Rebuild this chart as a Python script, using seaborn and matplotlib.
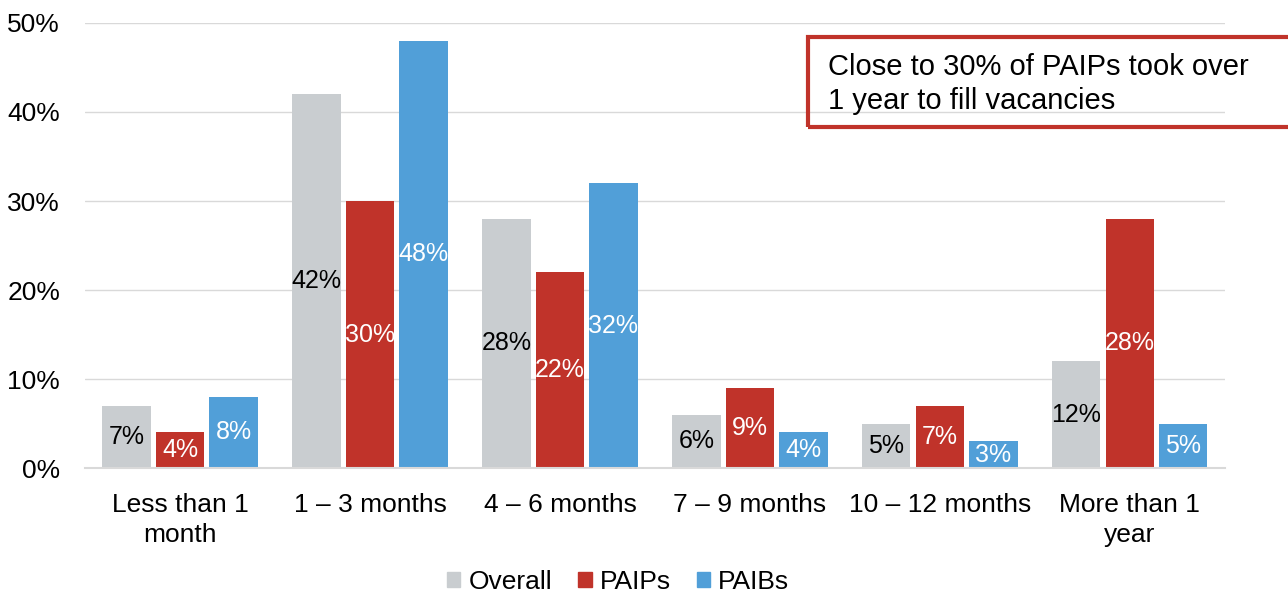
import pandas as pd
import numpy as np
import matplotlib.pyplot as plt
import seaborn as sns
from matplotlib.patches import Rectangle

# data
categories = ['Less than 1\nmonth', '1 – 3 months', '4 – 6 months',
              '7 – 9 months', '10 – 12 months', 'More than 1\nyear']
overall = [7, 42, 28, 6, 5, 12]
paips = [4, 30, 22, 9, 7, 28]
paibs = [8, 48, 32, 4, 3, 5]
groups = ['Overall', 'PAIPs', 'PAIBs']
colors = ['#C9CDD0', '#C0332A', '#519FD8']
label_colors = ['black', 'white', 'white']

df = pd.DataFrame({
    'category': categories * 3,
    'group': [g for g in groups for _ in categories],
    'value': [v / 100 for v in overall + paips + paibs],
})

sns.set_style('white')
plt.rcParams['font.family'] = ['Liberation Sans', 'DejaVu Sans']
plt.rcParams['text.color'] = 'black'
plt.rcParams['xtick.color'] = 'black'
plt.rcParams['ytick.color'] = 'black'

fig = plt.figure(figsize=(12.88, 5.97), dpi=100)
ax = fig.add_axes([0.066, 0.216, 0.885, 0.7455])

sns.barplot(data=df, x='category', y='value', hue='group', order=categories,
            hue_order=groups, palette=colors, width=0.845, gap=0.1,
            saturation=1, linewidth=0, ax=ax, legend=False)

for cont, c in zip(ax.containers, label_colors):
    ax.bar_label(cont, labels=[f'{h.get_height()*100:.0f}%' for h in cont],
                 label_type='center', color=c, fontsize=18)

ax.set_xlim(-0.5, 5.5)
ax.set_ylim(0, 0.5)
ax.set_yticks(np.arange(0, 0.51, 0.1))
ax.set_yticklabels([f'{int(t*100)}%' for t in np.arange(0, 0.51, 0.1)])
ax.yaxis.grid(True, color='#D9D9D9', linewidth=1)
ax.set_axisbelow(True)
for s in ['top', 'right', 'left']:
    ax.spines[s].set_visible(False)
ax.spines['bottom'].set_color('#D9D9D9')
ax.spines['bottom'].set_linewidth(1.5)
ax.tick_params(axis='y', length=0, pad=18, labelsize=19)
ax.tick_params(axis='x', length=0, pad=18, labelsize=19)
for lab in ax.get_xticklabels():
    lab.set_linespacing(1.3)
ax.set_xlabel('')
ax.set_ylabel('')

# legend with square markers
handles = [Rectangle((0, 0), 1, 1, color=c) for c in colors]
fig.legend(handles, groups, loc='lower center', bbox_to_anchor=(0.48, -0.035),
           ncol=3, frameon=False, fontsize=19, handlelength=0.5,
           handleheight=0.5, handletextpad=0.3, columnspacing=1.0)

# callout box (runs off the right edge)
box = Rectangle((808 / 1288, 1 - 127 / 597), 0.5, 90 / 597,
                transform=fig.transFigure, fill=False,
                edgecolor='#C0332A', linewidth=3, clip_on=False)
fig.patches.append(box)
fig.text(828 / 1288, 1 - 84 / 597,
         'Close to 30% of PAIPs took over\n1 year to fill vacancies',
         fontsize=21, va='center', ha='left', linespacing=1.3)

fig.savefig('out.png', dpi=100)
